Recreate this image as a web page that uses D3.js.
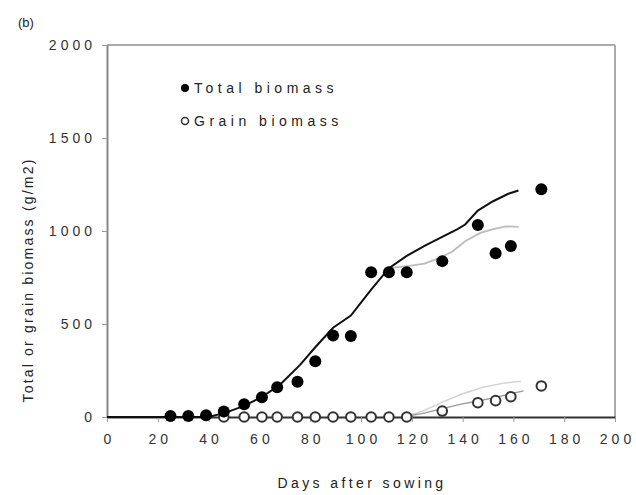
<!DOCTYPE html>
<html>
<head>
<meta charset="utf-8">
<script src="https://cdn.jsdelivr.net/npm/d3@7"></script>
<style>
  body { margin: 0; background: #fff; }
  svg { display: block; }
  text { font-family: "Liberation Sans", Arial, sans-serif; fill: #222; }
</style>
</head>
<body>
<div id="chart"></div>
<script>
const width = 636;
const height = 495;
const margin = { top: 45, right: 21, bottom: 78, left: 107 };

// Observed total biomass (filled circles)
const totalDays = [25, 32, 39, 46, 54, 61, 67, 75, 82, 89, 96, 104, 111, 118, 132, 146, 153, 159, 171];
const totalObs = [5, 5, 9, 29, 68, 106, 160, 190, 300, 438, 436, 778, 778, 778, 838, 1032, 880, 919, 1224];

// Observed grain biomass (open circles)
const grainDays = [46, 54, 61, 67, 75, 82, 89, 96, 104, 111, 118, 132, 146, 153, 159, 171];
const grainObs = [0, 0, 0, 0, 0, 0, 0, 0, 0, 0, 0, 32, 77, 88, 109, 167];

// Simulated total biomass, run 1 (black)
const sim1Days = [0, 40, 47, 54, 61, 68, 76, 82, 89, 96, 104, 111, 118, 125, 131, 138, 141, 146, 152, 158, 162];
const sim1Total = [0, 0, 25, 60, 108, 172, 280, 375, 480, 545, 685, 800, 866, 920, 962, 1010, 1035, 1110, 1160, 1200, 1218];

// Simulated total biomass, run 2 (grey)
const sim2Days = [111, 119, 125, 131, 136, 141, 147, 152, 157, 162];
const sim2Total = [800, 812, 825, 855, 890, 945, 990, 1010, 1025, 1022];

// Simulated grain biomass
const grain1Days = [116, 124, 132, 139, 146, 153, 160, 164];
const grain1Sim = [0, 18, 45, 68, 86, 105, 128, 140];
const grain2Days = [116, 124, 132, 140, 148, 156, 163];
const grain2Sim = [0, 30, 80, 125, 160, 182, 192];

const xTicks = [0, 20, 40, 60, 80, 100, 120, 140, 160, 180, 200];
const yTicks = [0, 500, 1000, 1500, 2000];

const svg = d3.select("#chart")
  .append("svg")
  .attr("width", width)
  .attr("height", height);

const x = d3.scaleLinear()
  .domain([0, 200])
  .range([margin.left, width - margin.right]);

const y = d3.scaleLinear()
  .domain([0, 2000])
  .range([height - margin.bottom, margin.top]);

// Frame: grey top and right edges
svg.append("line")
  .attr("x1", x(0)).attr("x2", x(200))
  .attr("y1", y(2000)).attr("y2", y(2000))
  .attr("stroke", "#aaa").attr("stroke-width", 2);
svg.append("line")
  .attr("x1", x(200)).attr("x2", x(200))
  .attr("y1", y(2000)).attr("y2", y(0))
  .attr("stroke", "#aaa").attr("stroke-width", 2);

// Axes
const xAxis = svg.append("g")
  .attr("transform", `translate(0,${y(0)})`)
  .call(d3.axisBottom(x).tickValues(xTicks).tickSize(5).tickSizeOuter(0).tickPadding(12));
xAxis.select(".domain").attr("stroke", "#333").attr("stroke-width", 2);
xAxis.selectAll(".tick line").attr("stroke", "#999");
xAxis.selectAll("text")
  .attr("font-size", "14px")
  .attr("letter-spacing", "4px")
  .attr("dx", "2px")
  .style("fill", "#333");

const yAxis = svg.append("g")
  .attr("transform", `translate(${x(0)},0)`)
  .call(d3.axisLeft(y).tickValues(yTicks).tickFormat(d3.format("d")).tickSize(5).tickSizeOuter(0).tickPadding(10));
yAxis.select(".domain").attr("stroke", "#888").attr("stroke-width", 2);
yAxis.selectAll(".tick line").attr("stroke", "#999");
yAxis.selectAll("text")
  .attr("font-size", "14px")
  .attr("letter-spacing", "4px")
  .attr("dx", "4px")
  .style("fill", "#333");

const line = d3.line().x(d => x(d[0])).y(d => y(d[1]));

// Simulated lines
svg.append("path")
  .datum(d3.zip(grain2Days, grain2Sim))
  .attr("d", line)
  .attr("fill", "none")
  .attr("stroke", "#d4d4d4")
  .attr("stroke-width", 1.5);

svg.append("path")
  .datum(d3.zip(grain1Days, grain1Sim))
  .attr("d", line)
  .attr("fill", "none")
  .attr("stroke", "#999")
  .attr("stroke-width", 1.3);

svg.append("path")
  .datum(d3.zip(sim2Days, sim2Total))
  .attr("d", line)
  .attr("fill", "none")
  .attr("stroke", "#bbb")
  .attr("stroke-width", 1.8);

svg.append("path")
  .datum(d3.zip(sim1Days, sim1Total))
  .attr("d", line)
  .attr("fill", "none")
  .attr("stroke", "#111")
  .attr("stroke-width", 2);

// Observed points
svg.selectAll(".grain")
  .data(d3.zip(grainDays, grainObs))
  .join("circle")
  .attr("class", "grain")
  .attr("cx", d => x(d[0]))
  .attr("cy", d => y(d[1]))
  .attr("r", 4.8)
  .attr("fill", "#fff")
  .attr("stroke", "#333")
  .attr("stroke-width", 2);

svg.selectAll(".total")
  .data(d3.zip(totalDays, totalObs))
  .join("circle")
  .attr("class", "total")
  .attr("cx", d => x(d[0]))
  .attr("cy", d => y(d[1]))
  .attr("r", 6)
  .attr("fill", "#000");

// Legend
svg.append("circle").attr("cx", 185).attr("cy", 88).attr("r", 4).attr("fill", "#000");
svg.append("text")
  .attr("x", 194).attr("y", 93)
  .attr("font-size", "14px")
  .attr("letter-spacing", "4.5px")
  .text("Total biomass");

svg.append("circle").attr("cx", 185).attr("cy", 121).attr("r", 3.5)
  .attr("fill", "#fff").attr("stroke", "#333").attr("stroke-width", 1.5);
svg.append("text")
  .attr("x", 194).attr("y", 126)
  .attr("font-size", "14px")
  .attr("letter-spacing", "4.5px")
  .text("Grain biomass");

// Panel label
svg.append("text")
  .attr("x", 18).attr("y", 27)
  .attr("font-size", "13px")
  .text("(b)");

// Axis titles
svg.append("text")
  .attr("x", 362).attr("y", 488)
  .attr("text-anchor", "middle")
  .attr("font-size", "14px")
  .attr("letter-spacing", "3.4px")
  .text("Days after sowing");

svg.append("text")
  .attr("transform", "rotate(-90)")
  .attr("x", -280).attr("y", 33)
  .attr("text-anchor", "middle")
  .attr("font-size", "14px")
  .attr("letter-spacing", "2.2px")
  .text("Total or grain biomass (g/m2)");
</script>
</body>
</html>
